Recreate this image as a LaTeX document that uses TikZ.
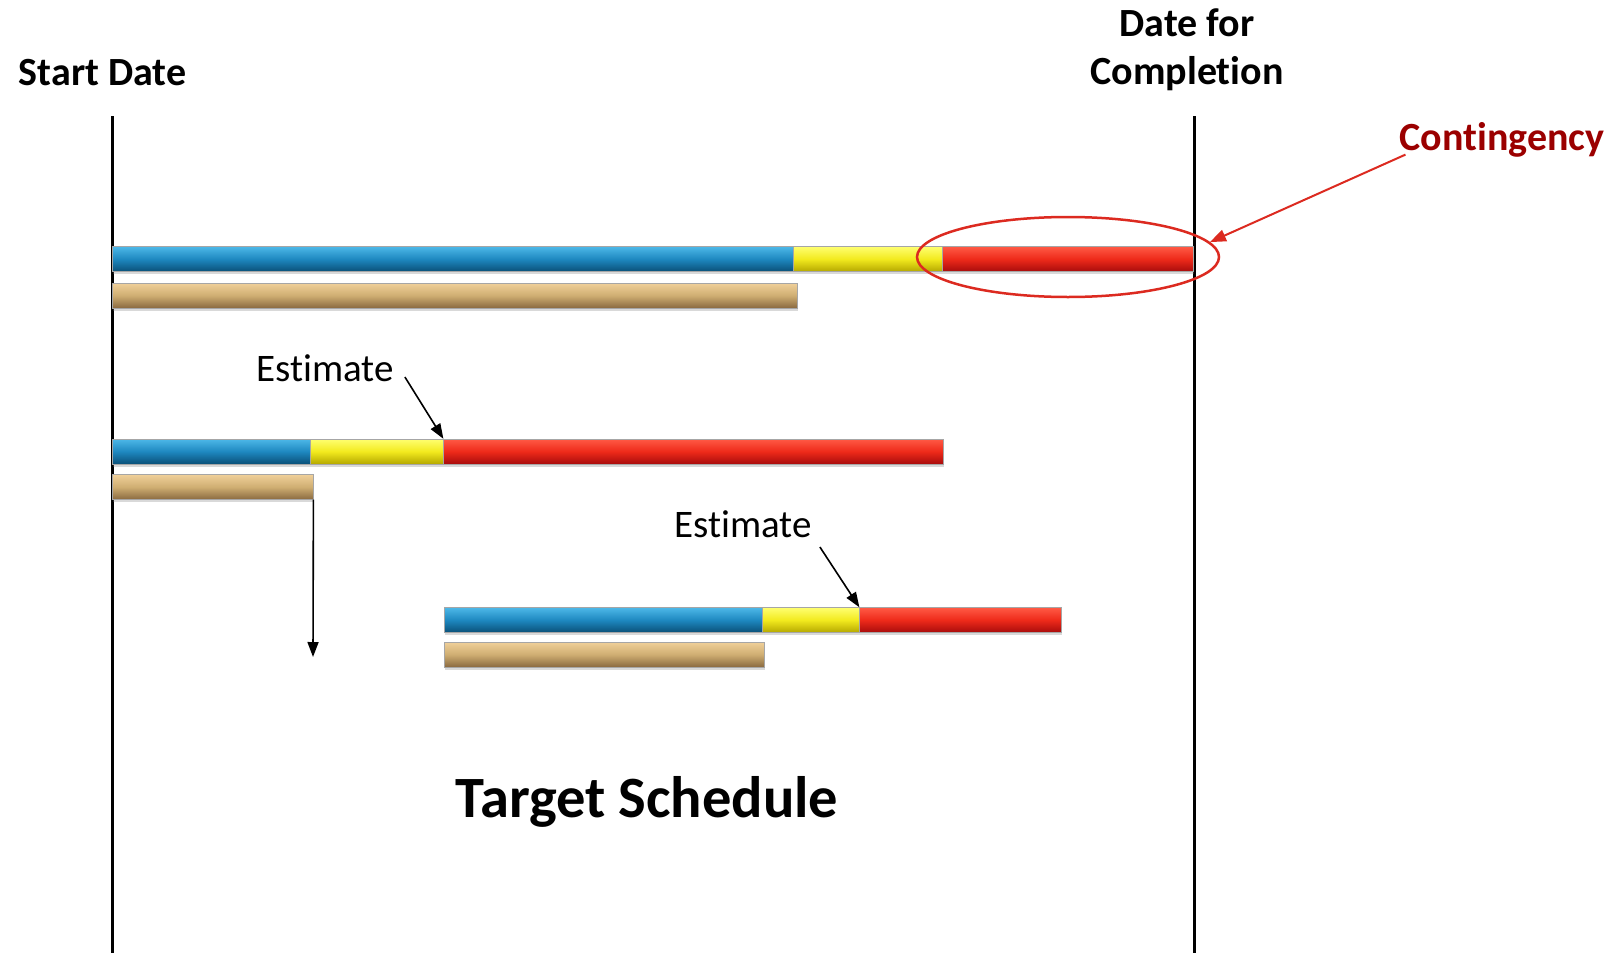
\documentclass[tikz,border=0pt]{standalone}
\usepackage{fontspec}
\setmainfont[Ligatures=NoCommon]{Carlito}
\usetikzlibrary{shapes.geometric,shadows,arrows.meta}

\definecolor{blueT}{HTML}{4DB8E8}
\definecolor{blueM}{HTML}{1E88C0}
\definecolor{blueB}{HTML}{0A5078}
\definecolor{yelT}{HTML}{FFFF70}
\definecolor{yelM}{HTML}{F2EA1E}
\definecolor{yelB}{HTML}{B5A800}
\definecolor{redT}{HTML}{FF5A45}
\definecolor{redM}{HTML}{EE2A1A}
\definecolor{redB}{HTML}{A80C0C}
\definecolor{tanT}{HTML}{F0D09A}
\definecolor{tanM}{HTML}{CFAE72}
\definecolor{tanB}{HTML}{8A6A40}
\definecolor{contred}{HTML}{9B0000}
\definecolor{ringred}{HTML}{DC2A20}

\tikzset{
  bar/.style={anchor=west, inner sep=0pt, minimum height=25pt, draw=black!35, line width=0.4pt,
    drop shadow={shadow xshift=1pt, shadow yshift=-2.5pt, opacity=0.3}},
  bluebar/.style={bar, top color=blueT, bottom color=blueB, middle color=blueM},
  yelbar/.style={bar, top color=yelT, bottom color=yelB, middle color=yelM},
  redbar/.style={bar, top color=redT, bottom color=redB, middle color=redM},
  tanbar/.style={bar, top color=tanT, bottom color=tanB, middle color=tanM},
  lbl/.style={inner sep=0pt, font=\fontsize{40}{48}\selectfont\bfseries},
  estlbl/.style={inner sep=0pt, font=\fontsize{39}{47}\selectfont},
  datelines/.style={line width=3pt},
}

\begin{document}
\begin{tikzpicture}[x=1pt,y=-1pt]
\useasboundingbox (0,0) rectangle (1619,953);

\draw[datelines] (112,116) -- (112,953);
\draw[datelines] (1194,116) -- (1194,953);

\node[lbl] (sd) at (102.5,73) {Start Date};
\node[lbl,align=center] (dfc) at (1187,50) {Date for\\Completion};
\node[lbl,text=contred] (cont) at (1502,140) {Contingency};

\node[bluebar,minimum width=681pt] (b1) at (112,259) {};
\node[yelbar,minimum width=149pt] (y1) at (793,259) {};
\node[redbar,minimum width=251pt] (r1) at (942,259) {};
\node[tanbar,minimum width=685pt] (t1) at (112,295.5) {};

\node[bluebar,minimum width=198pt] (b2) at (112,451.5) {};
\node[yelbar,minimum width=133pt] (y2) at (310,451.5) {};
\node[redbar,minimum width=500pt] (r2) at (443,451.5) {};
\node[tanbar,minimum width=201pt] (t2) at (112,487) {};

\node[bluebar,minimum width=318pt] (b3) at (444,620) {};
\node[yelbar,minimum width=97pt] (y3) at (762,620) {};
\node[redbar,minimum width=202pt] (r3) at (859,620) {};
\node[tanbar,minimum width=320pt] (t3) at (444,654.5) {};

\node[ellipse,draw=ringred,line width=2.5pt,inner sep=0pt,minimum width=302pt,minimum height=80pt] (contring) at (1068,257) {};
\draw[ringred,line width=2pt,-{Triangle[length=16pt,width=12pt]}] (cont.south west) ++(6,-3) -- (contring.6);

\node[estlbl] (est1) at (325,368) {Estimate};
\draw[line width=1.6pt,-{Triangle[length=15pt,width=11pt]}] (est1.east) ++(11,9) -- (y2.north east);

\node[estlbl] (est2) at (743,524) {Estimate};
\draw[line width=1.6pt,-{Triangle[length=15pt,width=11pt]}] (est2.east) ++(8,23) -- (y3.north east);

\coordinate (drop) at (313,657);
\draw[line width=1.6pt,-{Triangle[length=15pt,width=11pt]}] (t2.south east) -- (drop);

\node[inner sep=0pt,font=\fontsize{58.5}{70}\selectfont\bfseries] (title) at (647,802) {Target Schedule};

\end{tikzpicture}
\end{document}
